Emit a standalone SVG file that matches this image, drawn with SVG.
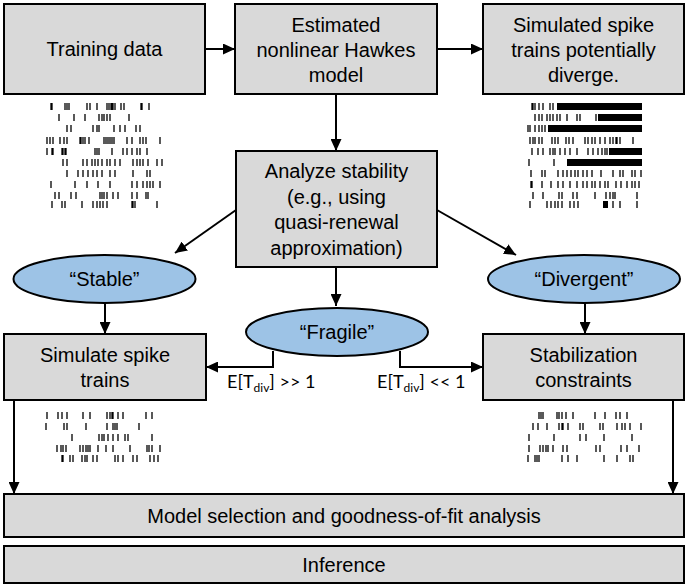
<svg xmlns="http://www.w3.org/2000/svg" width="688" height="588" viewBox="0 0 688 588">
<style>
.box{fill:#d9d9d9;stroke:#000;stroke-width:2}
.ell{fill:#9dc3e6;stroke:#000;stroke-width:2}
.t{font-family:"Liberation Sans",Arial,sans-serif;font-size:20px;fill:#000;text-anchor:middle}
.lbl{font-family:Lato,"Open Sans",sans-serif;font-size:18px;fill:#000}
.c{fill:none;stroke:#000;stroke-width:2}
.sp{fill:none;stroke:#000;stroke-width:1.3}
</style>
<defs>
<marker id="ah" viewBox="0 0 12 11" refX="12" refY="5.5" markerWidth="12" markerHeight="11" markerUnits="userSpaceOnUse" orient="auto">
<path d="M0,0 L12,5.5 L0,11 z" fill="#000"/>
</marker>
</defs>
<rect width="688" height="588" fill="#fff"/>

<g id="connectors">
<line class="c" x1="206" y1="49" x2="235" y2="49" marker-end="url(#ah)"/>
<line class="c" x1="438" y1="49" x2="483" y2="49" marker-end="url(#ah)"/>
<line class="c" x1="336" y1="95" x2="336" y2="151" marker-end="url(#ah)"/>
<line class="c" x1="236" y1="210" x2="175" y2="253" marker-end="url(#ah)"/>
<line class="c" x1="437" y1="210" x2="516" y2="255" marker-end="url(#ah)"/>
<line class="c" x1="336" y1="268" x2="336" y2="306" marker-end="url(#ah)"/>
<line class="c" x1="105" y1="303" x2="105" y2="334" marker-end="url(#ah)"/>
<line class="c" x1="585" y1="303" x2="585" y2="334" marker-end="url(#ah)"/>
<polyline class="c" points="273,351 273,367 206,367" marker-end="url(#ah)"/>
<polyline class="c" points="400,351 400,367 483,367" marker-end="url(#ah)"/>
<line class="c" x1="14" y1="400" x2="14" y2="494" marker-end="url(#ah)"/>
<line class="c" x1="673" y1="400" x2="673" y2="494" marker-end="url(#ah)"/>
</g>

<g id="training">
<rect class="box" x="4" y="4" width="201" height="90"/>
<text class="t" x="104.5" y="56">Training data</text>
</g>
<g id="estimated">
<rect class="box" x="235" y="4" width="202" height="90"/>
<text class="t" x="336" y="32">Estimated</text>
<text class="t" x="336" y="57">nonlinear Hawkes</text>
<text class="t" x="336" y="82">model</text>
</g>
<g id="simulated">
<rect class="box" x="483" y="4" width="201" height="90"/>
<text class="t" x="583.5" y="32">Simulated spike</text>
<text class="t" x="583.5" y="57">trains potentially</text>
<text class="t" x="583.5" y="82">diverge.</text>
</g>
<g id="analyze">
<rect class="box" x="236" y="151" width="201" height="116"/>
<text class="t" x="336.5" y="178">Analyze stability</text>
<text class="t" x="336.5" y="203.5">(e.g., using</text>
<text class="t" x="336.5" y="229">quasi-renewal</text>
<text class="t" x="336.5" y="254.5">approximation)</text>
</g>
<g id="stable">
<ellipse class="ell" cx="104.5" cy="279" rx="91" ry="24"/>
<text class="t" x="104.5" y="286">“Stable”</text>
</g>
<g id="divergent">
<ellipse class="ell" cx="584" cy="279" rx="96" ry="24"/>
<text class="t" x="584" y="286">“Divergent”</text>
</g>
<g id="fragile">
<ellipse class="ell" cx="337" cy="332" rx="91" ry="24"/>
<text class="t" x="337" y="339">“Fragile”</text>
</g>
<g id="simulate">
<rect class="box" x="4" y="334" width="202" height="66"/>
<text class="t" x="105" y="362">Simulate spike</text>
<text class="t" x="105" y="387">trains</text>
</g>
<g id="stabilization">
<rect class="box" x="483" y="334" width="201" height="66"/>
<text class="t" x="583.5" y="362">Stabilization</text>
<text class="t" x="583.5" y="387">constraints</text>
</g>
<g id="labels">
<text class="lbl" x="227" y="388">E[T<tspan font-size="12" dy="4">div</tspan><tspan dy="-4">] &gt;&gt; 1</tspan></text>
<text class="lbl" x="377" y="388">E[T<tspan font-size="12" dy="4">div</tspan><tspan dy="-4">] &lt;&lt; 1</tspan></text>
</g>
<g id="model">
<rect class="box" x="4" y="494" width="680" height="43"/>
<text class="t" x="344" y="523">Model selection and goodness-of-fit analysis</text>
</g>
<g id="inference">
<rect class="box" x="4" y="546" width="680" height="37"/>
<text class="t" x="344" y="572">Inference</text>
</g>

<g id="raster-training" class="sp">
<path class="sp" d="M51,103v7M52,103v7M65,103v7M67,103v7M69,103v7M87,103v7M90,103v7M97,103v7M107,103v7M109,103v7M111,103v7M112,103v7M113,103v7M115,103v7M121,103v7M124,103v7M141,103v7M142,103v7M149,103v7"/>
<path class="sp" d="M59,114v7M74,114v7M85,114v7M99,114v7M102,114v7M104,114v7M107,114v7M110,114v7M129,114v7"/>
<path class="sp" d="M67,125v7M71,125v7M93,125v7M97,125v7M99,125v7M114,125v7M120,125v7M125,125v7M136,125v7M140,125v7"/>
<path class="sp" d="M47,137v7M50,137v7M53,137v7M60,137v7M64,137v7M67,137v7M80,137v7M81,137v7M83,137v7M85,137v7M89,137v7M104,137v7M106,137v7M108,137v7M110,137v7M112,137v7M114,137v7M127,137v7M132,137v7M140,137v7M143,137v7M146,137v7M160,137v7"/>
<path class="sp" d="M47,148v7M52,148v7M53,148v7M62,148v7M63,148v7M65,148v7M66,148v7M95,148v7M97,148v7M99,148v7M112,148v7M123,148v7M127,148v7M132,148v7M137,148v7M140,148v7M147,148v7"/>
<path class="sp" d="M63,159v7M67,159v7M83,159v7M87,159v7M92,159v7M95,159v7M98,159v7M102,159v7M107,159v7M110,159v7M115,159v7M120,159v7M133,159v7M137,159v7M140,159v7M143,159v7M148,159v7M157,159v7M162,159v7"/>
<path class="sp" d="M67,170v7M78,170v7M83,170v7M88,170v7M93,170v7M97,170v7M102,170v7M110,170v7M115,170v7M133,170v7M147,170v7M150,170v7"/>
<path class="sp" d="M51,181v7M75,181v7M87,181v7M98,181v7M110,181v7M132,181v7M137,181v7M143,181v7M147,181v7M150,181v7M153,181v7M160,181v7"/>
<path class="sp" d="M55,192v7M59,192v7M71,192v7M76,192v7M100,192v7M102,192v7M104,192v7M107,192v7M113,192v7M118,192v7M132,192v7M137,192v7M146,192v7M148,192v7"/>
<path class="sp" d="M52,201v7M62,201v7M65,201v7M82,201v7M93,201v7M97,201v7M100,201v7M103,201v7M107,201v7M132,201v7M133,201v7M135,201v7M157,201v7"/>
</g>

<g id="raster-divergent">
<path class="sp" d="M532,103v7M533,103v7M535,103v7M539,103v7M543,103v7M550,103v7M553,103v7"/>
<rect x="557" y="103" width="85" height="7" fill="#000"/>
<path class="sp" d="M535,114v7M539,114v7M542,114v7M547,114v7M550,114v7M553,114v7M557,114v7M560,114v7M567,114v7M577,114v7M580,114v7M596,114v7"/>
<rect x="598" y="114" width="44" height="7" fill="#000"/>
<path class="sp" d="M528,125v7M530,125v7M535,125v7M539,125v7M542,125v7M545,125v7"/>
<rect x="548" y="125" width="94" height="7" fill="#000"/>
<path class="sp" d="M530,137v7M533,137v7M535,137v7M539,137v7M542,137v7M552,137v7M555,137v7M558,137v7M566,137v7M569,137v7M573,137v7M585,137v7M588,137v7M592,137v7M595,137v7M600,137v7M605,137v7M610,137v7M613,137v7M616,137v7M617,137v7M620,137v7M633,137v7"/>
<path class="sp" d="M532,148v7M538,148v7M543,148v7M550,148v7M553,148v7M555,148v7M560,148v7M565,148v7M570,148v7M577,148v7M588,148v7M593,148v7M598,148v7M602,148v7M605,148v7M607,148v7"/>
<rect x="609" y="148" width="33" height="7" fill="#000"/>
<path class="sp" d="M529,159v7M554,159v7"/>
<rect x="567" y="159" width="75" height="7" fill="#000"/>
<path class="sp" d="M531,170v7M542,170v7M545,170v7M558,170v7M563,170v7M567,170v7M571,170v7M575,170v7M578,170v7M583,170v7M587,170v7M592,170v7M601,170v7M613,170v7M620,170v7M623,170v7M632,170v7M635,170v7M641,170v7"/>
<path class="sp" d="M531,181v7M532,181v7M542,181v7M551,181v7M558,181v7M563,181v7M570,181v7M577,181v7M583,181v7M587,181v7M592,181v7M595,181v7M600,181v7M605,181v7M608,181v7M616,181v7M621,181v7M627,181v7M632,181v7M635,181v7M639,181v7"/>
<path class="sp" d="M533,192v7M543,192v7M559,192v7M562,192v7M573,192v7M577,192v7M595,192v7M606,192v7M610,192v7M613,192v7M615,192v7M637,192v7"/>
<path class="sp" d="M530,201v7M547,201v7M551,201v7M555,201v7M558,201v7M562,201v7M570,201v7M574,201v7M578,201v7M613,201v7M620,201v7M637,201v7"/>
<rect x="603" y="201" width="5" height="7" fill="#000"/>
</g>

<g id="raster-stable">
<path class="sp" d="M47,412v7M58,412v7M62,412v7M67,412v7M83,412v7M90,412v7M107,412v7M110,412v7M112,412v7M113,412v7M118,412v7M123,412v7M146,412v7M152,412v7"/>
<path class="sp" d="M46,423v7M64,423v7M67,423v7M86,423v7M107,423v7M113,423v7M115,423v7M117,423v7M139,423v7"/>
<path class="sp" d="M72,434v7M99,434v7M102,434v7M104,434v7M108,434v7M113,434v7M118,434v7M125,434v7M128,434v7M152,434v7"/>
<path class="sp" d="M57,445v7M61,445v7M63,445v7M66,445v7M80,445v7M83,445v7M86,445v7M88,445v7M90,445v7M98,445v7M106,445v7M113,445v7M130,445v7M147,445v7M149,445v7M152,445v7M160,445v7"/>
<path class="sp" d="M62,455v7M63,455v7M70,455v7M73,455v7M82,455v7M85,455v7M87,455v7M93,455v7M97,455v7M115,455v7M118,455v7M123,455v7M133,455v7M137,455v7M150,455v7M154,455v7M158,455v7"/>
</g>

<g id="raster-stabilized">
<path class="sp" d="M539,412v7M541,412v7M543,412v7M557,412v7M559,412v7M562,412v7M566,412v7M573,412v7M595,412v7M605,412v7M616,412v7M620,412v7M627,412v7"/>
<path class="sp" d="M533,423v7M538,423v7M547,423v7M559,423v7M562,423v7M563,423v7M568,423v7M580,423v7M583,423v7M600,423v7M603,423v7M617,423v7M622,423v7M625,423v7M630,423v7M641,423v7"/>
<path class="sp" d="M529,434v7M554,434v7M580,434v7M586,434v7M604,434v7M632,434v7"/>
<path class="sp" d="M529,445v7M540,445v7M543,445v7M546,445v7M548,445v7M553,445v7M563,445v7M567,445v7M596,445v7M600,445v7M621,445v7M627,445v7M639,445v7"/>
<path class="sp" d="M528,455v7M535,455v7M537,455v7M539,455v7M562,455v7M568,455v7M577,455v7M604,455v7M617,455v7M630,455v7M633,455v7"/>
</g>
</svg>
